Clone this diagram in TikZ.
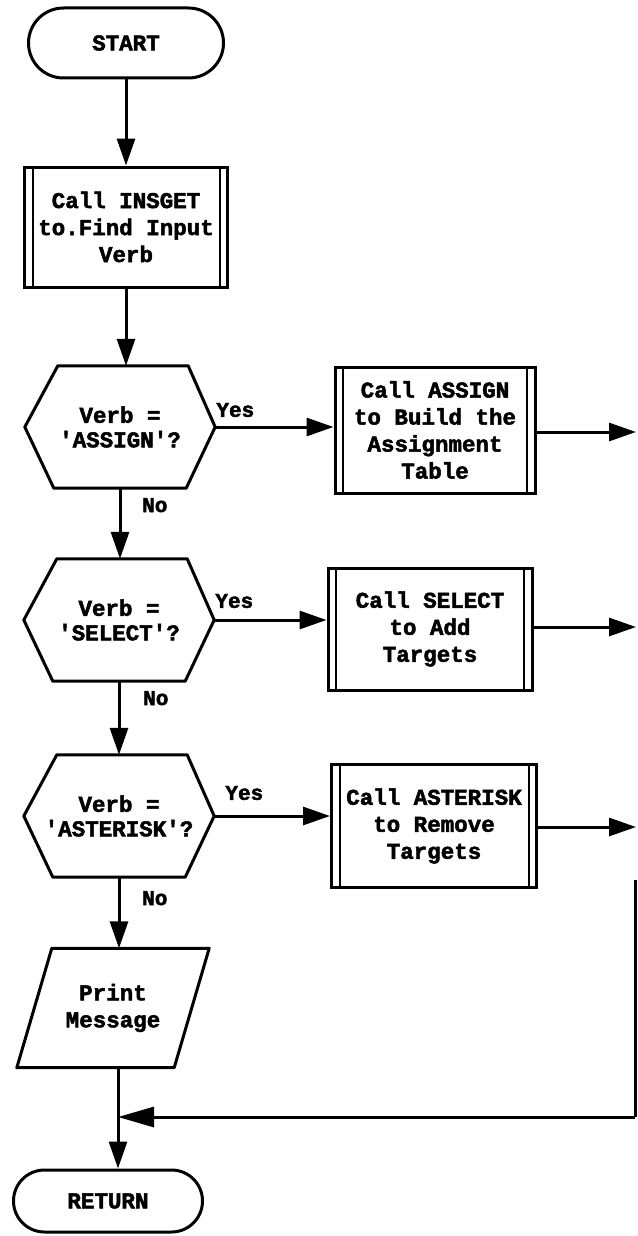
\documentclass[tikz,border=0pt]{standalone}
\usepackage{fontspec}
\newfontfamily\tw{Liberation Mono}[FakeBold=2.2]
\usetikzlibrary{shapes.misc,arrows.meta,calc}

% hexagonal decision outline drawn round a named (undrawn) node
\newcommand\drawhex[1]{%
  \draw[line, line join=round] (#1.west) -- ($(#1.north west)+(33,0)$)
    -- ($(#1.north east)+(-27,0)$) -- (#1.east)
    -- ($(#1.south east)+(-29,0)$) -- ($(#1.south west)+(29,0)$) -- cycle;}

\begin{document}
\begin{tikzpicture}[x=1pt,y=-1pt,
  every node/.style={font=\tw\bfseries\fontsize{22.5}{27}\selectfont, text=black},
  line/.style={line width=3pt},
  flow/.style={line, -{Triangle[length=27pt,width=18pt]}},
  term/.style={rounded rectangle, draw, line width=3pt, inner sep=0pt},
  proc/.style={rectangle, draw, line width=3pt, align=center, inner sep=0pt,
    path picture={
      \draw[line width=2pt] ([xshift=8pt]path picture bounding box.north west)
        -- ([xshift=8pt]path picture bounding box.south west);
      \draw[line width=2pt] ([xshift=-8pt]path picture bounding box.north east)
        -- ([xshift=-8pt]path picture bounding box.south east);}},
  hexnode/.style={minimum width=190pt, minimum height=122pt, inner sep=0pt, align=center,
    font=\tw\bfseries\fontsize{22.5}{24.5}\selectfont},
  lbl/.style={font=\tw\bfseries\fontsize{21}{23}\selectfont, inner sep=0pt}
]
\useasboundingbox (0,0) rectangle (637,1236);
\fill[white] (0,0) rectangle (637,1236);

% terminals and steps
\node[term, minimum width=195pt, minimum height=70pt] (start) at (126,43) {START};
\node[proc, minimum width=203pt, minimum height=120pt] (insget) at (126,227)
  {Call INSGET\\to.Find Input\\Verb};

\node[hexnode] (d1) at (120,427) {Verb =\\'ASSIGN'?};
\node[hexnode] (d2) at (119,620) {Verb =\\'SELECT'?};
\node[hexnode] (d3) at (119,816) {Verb =\\'ASTERISK'?};
\drawhex{d1}
\drawhex{d2}
\drawhex{d3}

\node[proc, minimum width=200pt, minimum height=126pt] (assign) at (435,430)
  {Call ASSIGN\\to Build the\\Assignment\\Table};
\node[proc, minimum width=204pt, minimum height=122pt] (select) at (430,629)
  {Call SELECT\\to Add\\Targets};
\node[proc, minimum width=205pt, minimum height=123pt] (asterisk) at (434,826)
  {Call ASTERISK\\to Remove\\Targets};

% input/output parallelogram
\node[minimum width=192pt, minimum height=119pt, inner sep=0pt, align=center]
  (print) at (113,1008) {Print\\Message};
\draw[line, line join=round] ($(print.north west)+(35,0)$) -- (print.north east)
  -- ($(print.south east)+(-35,0)$) -- (print.south west) -- cycle;

\node[term, minimum width=189pt, minimum height=62pt] (ret) at (108,1201) {RETURN};

% branch labels
\node[lbl, anchor=west] (y1) at ($(d1.east)+(1,-17)$) {Yes};
\node[lbl, anchor=west] (y2) at ($(d2.east)+(1,-19)$) {Yes};
\node[lbl, anchor=west] (y3) at ($(d3.east)+(11,-23)$) {Yes};
\node[lbl, anchor=west] (n1) at ($(d1.south)+(22,17)$) {No};
\node[lbl, anchor=west] (n2) at ($(d2.south)+(24,17)$) {No};
\node[lbl, anchor=west] (n3) at ($(d3.south)+(23,21)$) {No};

% free ends at the right margin and the joining point
\coordinate (o1) at (636,432);
\coordinate (o2) at (636,627);
\coordinate (o3) at (636,827);
\coordinate (rt) at (635,880);
\coordinate (rb) at (635,1117);
\coordinate (merge) at (118,1117);

% main column
\draw[flow] (start.south) -- (start.south |- insget.north);
\draw[flow] (insget.south) -- (insget.south |- d1.north);
\draw[flow] (d1.south) -- (d1.south |- d2.north);
\draw[flow] (d2.south) -- (d2.south |- d3.north);
\draw[flow] (d3.south) -- (d3.south |- print.north);
\draw[line] (print.south -| merge) -- (merge);
\draw[flow] (merge) -- (merge |- ret.north);

% yes branches
\draw[flow] (d1.east) -- (d1.east -| assign.west);
\draw[flow] (d2.east) -- (d2.east -| select.west);
\draw[flow] (d3.east) -- (d3.east -| asterisk.west);
\draw[flow] (assign.east |- o1) -- (o1);
\draw[flow] (select.east |- o2) -- (o2);
\draw[flow] (asterisk.east |- o3) -- (o3);

% return path along the right margin
\draw[line] (rt) -- (rb);
\draw[line, -{Triangle[length=36pt,width=20pt]}] (rb) -- (merge);
\end{tikzpicture}
\end{document}
